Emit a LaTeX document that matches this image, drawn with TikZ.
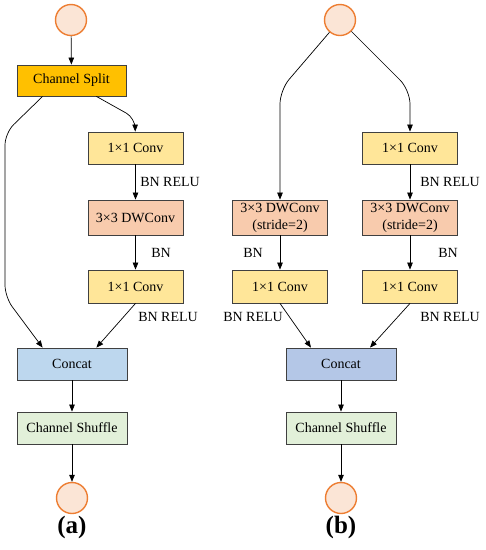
\documentclass[tikz,border=0pt]{standalone}
\usepackage{fontspec}
\setmainfont{Liberation Serif}
\usepackage{tikz}
\usetikzlibrary{arrows.meta}
\usepackage{xcolor}
\definecolor{splitorange}{HTML}{FFC000}
\definecolor{convyellow}{HTML}{FFE699}
\definecolor{dwsalmon}{HTML}{F8CBAD}
\definecolor{concatblueA}{HTML}{BDD7EE}
\definecolor{concatblueB}{HTML}{B4C7E7}
\definecolor{shufflegreen}{HTML}{E2F0D9}
\definecolor{ioorange}{HTML}{ED7D31}
\definecolor{iofill}{HTML}{FBE5D6}
\definecolor{boxgray}{HTML}{404040}

\begin{document}
\begin{tikzpicture}[x=1pt, y=-1pt,
  box/.style={draw=boxgray, line width=0.8pt, minimum width=95pt, minimum height=33pt,
    inner sep=0pt, align=center, font=\fontsize{14}{17}\selectfont},
  io/.style={circle, draw=ioorange, fill=iofill, line width=1.4pt, minimum size=31pt, inner sep=0pt},
  arr/.style={-{Triangle[length=7pt,width=5.5pt]}, line width=0.7pt},
  lbl/.style={font=\fontsize{14}{17}\selectfont},
  tag/.style={font=\fontsize{25}{28}\selectfont\bfseries}]

\useasboundingbox (0,0) rectangle (486,550);

% (a)
\node[io] (inA) at (71,20) {};
\node[box, fill=splitorange, minimum width=109pt, minimum height=31pt] (split) at (71.5,80.5) {Channel Split};
\node[box, fill=convyellow, minimum height=32pt] (convA1) at (135.5,148) {1×1 Conv};
\node[box, fill=dwsalmon, minimum height=35pt] (dwA) at (135.5,217.5) {3×3 DWConv};
\node[box, fill=convyellow] (convA2) at (135.5,286.5) {1×1 Conv};
\node[box, fill=concatblueA, minimum width=110pt, minimum height=32pt] (concatA) at (72,364) {Concat};
\node[box, fill=shufflegreen, minimum width=110pt, minimum height=32pt] (shuffleA) at (72,428) {Channel Shuffle};
\node[io] (outA) at (72,498) {};
\node[tag] (tagA) at (72,527) {(a)};

\node[lbl] (bnreluA1) at (170,182) {BN RELU};
\node[lbl] (bnA) at (161,253) {BN};
\node[lbl] (bnreluA2) at (168,317) {BN RELU};

\coordinate (bendA1) at (5,133);
\coordinate (bendA2) at (5,297);
\coordinate (bendA3) at (135,118);

\draw[arr] (inA) -- (split);
\draw[arr, rounded corners=12pt] ([xshift=26pt]split.south west) -- (bendA1) -- (bendA2) -- ([xshift=26pt]concatA.north west);
\draw[arr, rounded corners=10pt] ([xshift=-30pt]split.south east) -- (bendA3) -- (convA1);
\draw[arr] (convA1) -- (dwA);
\draw[arr] (dwA) -- (convA2);
\draw[arr] (convA2.south) -- ([xshift=-31pt]concatA.north east);
\draw[arr] (concatA) -- (shuffleA);
\draw[arr] (shuffleA) -- (outA);

% (b)
\node[io] (inB) at (340,20) {};
\node[box, fill=convyellow, minimum height=32pt] (convB1) at (410,148) {1×1 Conv};
\node[box, fill=dwsalmon, minimum height=35pt] (dwB1) at (280,217.5) {3×3 DWConv\\(stride=2)};
\node[box, fill=dwsalmon, minimum height=35pt] (dwB2) at (410,217.5) {3×3 DWConv\\(stride=2)};
\node[box, fill=convyellow] (convB2) at (280,286.5) {1×1 Conv};
\node[box, fill=convyellow] (convB3) at (410,286.5) {1×1 Conv};
\node[box, fill=concatblueB, minimum width=110pt, minimum height=32pt] (concatB) at (341,364) {Concat};
\node[box, fill=shufflegreen, minimum width=110pt, minimum height=32pt] (shuffleB) at (341,428) {Channel Shuffle};
\node[io] (outB) at (341,498) {};
\node[tag] (tagB) at (341,527) {(b)};

\node[lbl] (bnreluB1) at (450,182) {BN RELU};
\node[lbl] (bnB1) at (253,253) {BN};
\node[lbl] (bnB2) at (448,253) {BN};
\node[lbl] (bnreluB2) at (253,317) {BN RELU};
\node[lbl] (bnreluB3) at (450,317) {BN RELU};

\coordinate (bendB1) at (280,90);
\coordinate (bendB2) at (410,90);

\draw[arr, rounded corners=14pt] (inB) -- (bendB1) -- (dwB1);
\draw[arr, rounded corners=14pt] (inB) -- (bendB2) -- (convB1);
\draw[arr] (convB1) -- (dwB2);
\draw[arr] (dwB1) -- (convB2);
\draw[arr] (dwB2) -- (convB3);
\draw[arr] (convB2.south) -- ([xshift=-30pt]concatB.north);
\draw[arr] (convB3.south) -- ([xshift=29pt]concatB.north);
\draw[arr] (concatB) -- (shuffleB);
\draw[arr] (shuffleB) -- (outB);
\end{tikzpicture}
\end{document}
